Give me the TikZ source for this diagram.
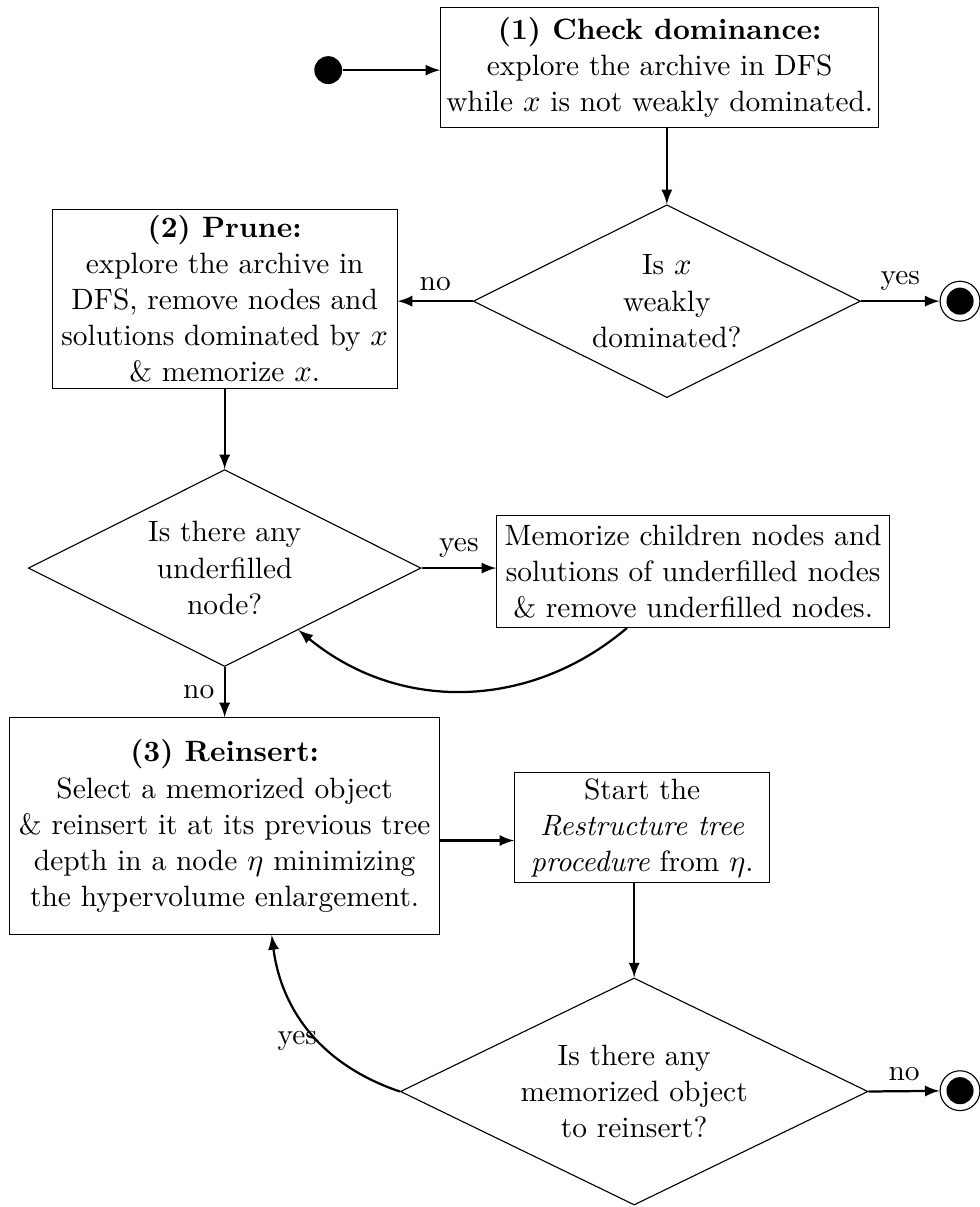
\documentclass[tikz,border=0pt]{standalone}
\usepackage{amsmath}
\usepackage{amssymb}
\usepackage{tikz}
\usetikzlibrary{shapes,arrows,positioning}

\begin{document}
\begin{tikzpicture}[
    font=\fontsize{10.5pt}{12.9pt}\selectfont,
    block/.style={rectangle, draw, inner sep=2pt, align=center},
    decision/.style={diamond, draw, aspect=2, inner sep=1pt, align=center},
    arrow/.style={-latex, thick},
    startnode/.style={circle, fill=black, minimum size=0.35cm, inner sep=0pt},
    endnode/.style={circle, draw, minimum size=0.5cm, inner sep=0pt,
        path picture={\fill (path picture bounding box.center) circle (0.17cm);}}
]
\useasboundingbox (0,0) rectangle (12.29,-15.15);

% Check dominance
\node[startnode] (start) at (4.12,-0.88) {};
\node[block, minimum width=5.41cm, minimum height=1.51cm] (check) at (8.28,-0.85)
    {\textbf{(1) Check dominance:}\\ explore the archive in DFS\\ while $x$ is not weakly dominated.};
\node[decision, minimum width=4.86cm, minimum height=2.42cm] (isdom) at (8.37,-3.78)
    {Is $x$\\ weakly\\ dominated?};
\node[endnode] (stop1) at (12.05,-3.78) {};

% Prune
\node[block, minimum width=4.33cm, minimum height=2.25cm] (prune) at (2.82,-3.75)
    {\textbf{(2) Prune:}\\ explore the archive in\\ DFS, remove nodes and\\ solutions dominated by $x$\\ \& memorize $x$.};
\node[decision, minimum width=4.93cm, minimum height=2.47cm] (isunder) at (2.82,-7.13)
    {Is there any\\ underfilled\\ node?};
\node[block, minimum width=4.93cm, minimum height=1.41cm] (memo) at (8.70,-7.17)
    {Memorize children nodes and\\ solutions of underfilled nodes\\ \& remove underfilled nodes.};

% Reinsert
\node[block, minimum width=5.40cm, minimum height=2.72cm] (reinsert) at (2.82,-10.37)
    {\textbf{(3) Reinsert:}\\ Select a memorized object\\ \& reinsert it at its previous tree\\ depth in a node $\eta$ minimizing\\ the hypervolume enlargement.};
\node[block, minimum width=3.20cm, minimum height=1.07cm] (restruct) at (8.06,-10.39)
    {Start the\\ \textit{Restructure tree}\\ \textit{procedure} from $\eta$.};
\node[decision, minimum width=5.87cm, minimum height=2.85cm] (isleft) at (7.96,-13.70)
    {Is there any\\ memorized object\\ to reinsert?};
\node[endnode] (stop2) at (12.05,-13.69) {};

% Arrows
\draw[arrow] (start) -- (start -| check.west);
\draw[arrow] (check.south -| isdom.north) -- (isdom.north);
\draw[arrow] (isdom.east) -- (stop1) node[midway, above] {yes};
\draw[arrow] (isdom.west) -- (isdom.west -| prune.east) node[midway, above] {no};
\draw[arrow] (prune) -- (isunder);
\draw[arrow] (isunder.east) -- (isunder.east -| memo.west) node[midway, above] {yes};
\draw[arrow] ([xshift=-0.83cm]memo.south) to[bend left=40] (isunder.-40);
\draw[arrow] (isunder) -- (reinsert) node[midway, left] {no};
\draw[arrow] ([yshift=-0.18cm]reinsert.east) -- ([yshift=-0.18cm]reinsert.east -| restruct.west);
\draw[arrow] (restruct.south -| isleft.north) -- (isleft.north);
\draw[arrow] (isleft.east) -- (stop2) node[midway, above] {no};
\draw[arrow] (isleft.west) to[bend left=32] node[pos=0.45, left, inner sep=0pt] {yes}
    ([xshift=0.59cm]reinsert.south);

\end{tikzpicture}
\end{document}
